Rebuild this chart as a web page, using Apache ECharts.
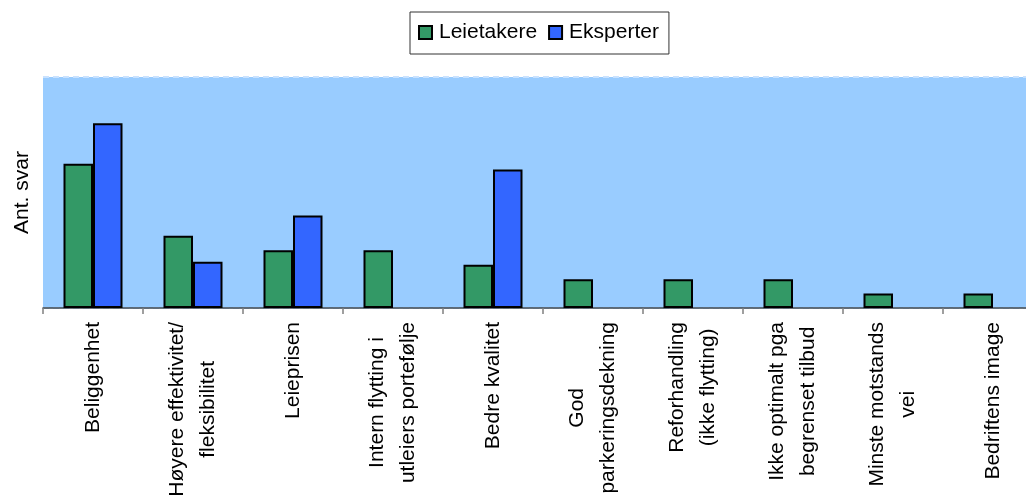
<!DOCTYPE html>
<html>
<head>
<meta charset="utf-8">
<script src="https://cdn.jsdelivr.net/npm/echarts@6/dist/echarts.min.js"></script>
<style>
  html, body { margin: 0; padding: 0; background: #fff; overflow: hidden; }
  #chart { width: 1026px; height: 503px; }
</style>
</head>
<body>
<div id="chart"></div>
<script>
// Reasons given for choosing premises, counted per respondent group
const categories = [
  'Beliggenhet',
  'Høyere effektivitet/\nfleksibilitet',
  'Leieprisen',
  'Intern flytting i\nutleiers portefølje',
  'Bedre kvalitet',
  'God\nparkeringsdekning',
  'Reforhandling\n(ikke flytting)',
  'Ikke optimalt pga\nbegrenset tilbud',
  'Minste motstands\nvei',
  'Bedriftens image'
];
const seriesNames = ['Leietakere', 'Eksperter'];
const leietakere = [10, 5, 4, 4, 3, 2, 2, 2, 1, 1];
const eksperter = [12.8, 3.2, 6.4, null, 9.6, null, null, null, null, null];
const yMax = 16;

const FONT = "'Liberation Sans', Arial, sans-serif";
const chart = echarts.init(document.getElementById('chart'), null, { renderer: 'canvas' });

const barStyle = (color) => ({ color: color, borderColor: '#000', borderWidth: 2 });

chart.setOption({
  animation: false,
  textStyle: { fontFamily: FONT },
  legend: {
    data: seriesNames,
    left: 410,
    top: 12,
    padding: [10, 10, 11, 8],
    borderColor: '#333',
    borderWidth: 1,
    itemWidth: 13,
    itemHeight: 13,
    itemGap: 11,
    icon: 'rect',
    textStyle: { fontFamily: FONT, fontSize: 21, color: '#000', padding: [0, 0, 0, 2] }
  },
  grid: {
    left: 43,
    width: 1000,
    top: 77,
    bottom: 195,
    show: true,
    backgroundColor: '#99CCFF',
    borderWidth: 0,
    containLabel: false,
    outerBoundsMode: 'none'
  },
  xAxis: {
    type: 'category',
    data: categories,
    axisLine: { show: true, lineStyle: { color: '#3c464e', width: 1.5 } },
    axisTick: { show: true, length: 6, lineStyle: { color: '#808080', width: 1.5 } },
    axisLabel: {
      interval: 0,
      rotate: 90,
      margin: 14,
      color: '#000',
      fontFamily: FONT,
      fontSize: 21,
      lineHeight: 31,
      formatter: (v) => v.split('\n').map(s => '{c|' + s + '}').join('\n'),
      rich: { c: { align: 'center', fontSize: 21, lineHeight: 31, fontFamily: FONT, color: '#000' } }
    }
  },
  yAxis: {
    type: 'value',
    min: 0,
    max: yMax,
    interval: yMax,
    name: 'Ant. svar',
    nameLocation: 'middle',
    nameGap: 10,
    nameRotate: 90,
    nameTextStyle: { fontFamily: FONT, fontSize: 21, color: '#000' },
    axisLine: { show: false },
    axisTick: { show: false },
    axisLabel: { show: false },
    splitLine: { show: true, lineStyle: { color: '#c9e2ff', width: 2, type: [6, 4] } }
  },
  series: [
    {
      name: seriesNames[0],
      type: 'bar',
      data: leietakere,
      barGap: '0%',
      barCategoryGap: '41%',
      itemStyle: barStyle('#339966')
    },
    {
      name: seriesNames[1],
      type: 'bar',
      data: eksperter,
      barGap: '0%',
      barCategoryGap: '41%',
      itemStyle: barStyle('#3366FF')
    }
  ]
});
</script>
</body>
</html>
